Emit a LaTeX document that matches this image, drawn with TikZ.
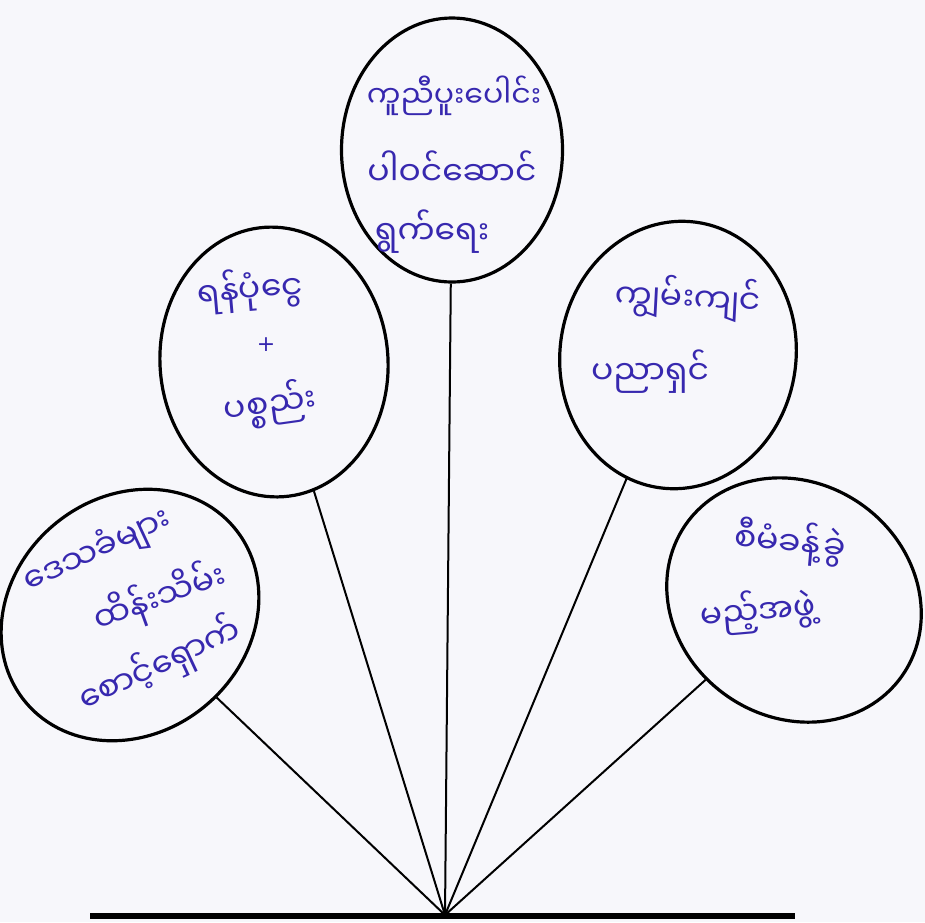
\documentclass[tikz,border=0pt]{standalone}
\usepackage{fontspec}
\newfontfamily\mya[Script=Myanmar]{Noto Sans Myanmar UI}
\newfontfamily\plainsans{DejaVu Sans}
\usetikzlibrary{shapes.geometric}
\definecolor{ink}{RGB}{55,40,175}
\definecolor{paper}{RGB}{247,247,251}
\begin{document}
\begin{tikzpicture}[x=1pt,y=-1pt,
  bubble/.style={draw=black, line width=3.2pt, ellipse, inner sep=0pt},
  hand/.style={text=ink, font=\mya\fontsize{33}{35}\selectfont, inner sep=0pt},
  handsmall/.style={text=ink, font=\mya\fontsize{30}{32}\selectfont, inner sep=0pt},
  plus/.style={text=ink, font=\plainsans\fontsize{22}{24}\selectfont, inner sep=0pt},
  spoke/.style={draw=black, line width=2pt},
  ground/.style={draw=black, line width=6pt}]
\useasboundingbox (0,0) rectangle (925,922);
\fill[paper] (0,0) rectangle (925,922);
% bubbles
\node[bubble, minimum width=221pt, minimum height=264pt] (top) at (452,150) {};
\node[bubble, minimum width=228pt, minimum height=270pt, rotate=4] (lm) at (274,362) {};
\node[bubble, minimum width=236pt, minimum height=268pt, rotate=-8] (rm) at (678,355) {};
\node[bubble, minimum width=272pt, minimum height=236pt, rotate=40] (bl) at (130,615) {};
\node[bubble, minimum width=264pt, minimum height=234pt, rotate=-35] (brr) at (794,600) {};
% ground and hub
\coordinate (hub) at (445,915);
\coordinate (gl) at (90,916);
\coordinate (gr) at (795,916);
\draw[ground] (gl) -- (gr);
\draw[spoke] (hub) -- (top);
\draw[spoke] (hub) -- (lm);
\draw[spoke] (hub) -- (rm);
\draw[spoke] (hub) -- (bl);
\draw[spoke] (hub) -- (brr);
% texts
\node[handsmall] (t1) at (454,96) {ကူညီပူးပေါင်း};
\node[hand] (t2) at (452,168) {ပါဝင်ဆောင်};
\node[hand] (t3) at (432,232) {ရွက်ရေး};
\node[hand, rotate=5] (l1) at (250,290) {ရန်ပုံငွေ};
\node[plus] (l2) at (266,345) {+};
\node[hand, rotate=8] (l3) at (270,405) {ပစ္စည်း};
\node[hand, rotate=-3] (r1) at (688,298) {ကျွမ်းကျင်};
\node[hand] (r2) at (650,372) {ပညာရှင်};
\node[hand, rotate=-5] (b1) at (790,543) {စီမံခန့်ခွဲ};
\node[hand, rotate=5] (b2) at (758,612) {မည့်အဖွဲ့};
\node[hand, rotate=25] (a1) at (98,552) {ဒေသခံများ};
\node[hand, rotate=20] (a2) at (160,598) {ထိန်းသိမ်း};
\node[hand, rotate=25] (a3) at (160,665) {စောင့်ရှောက်};
\end{tikzpicture}
\end{document}
